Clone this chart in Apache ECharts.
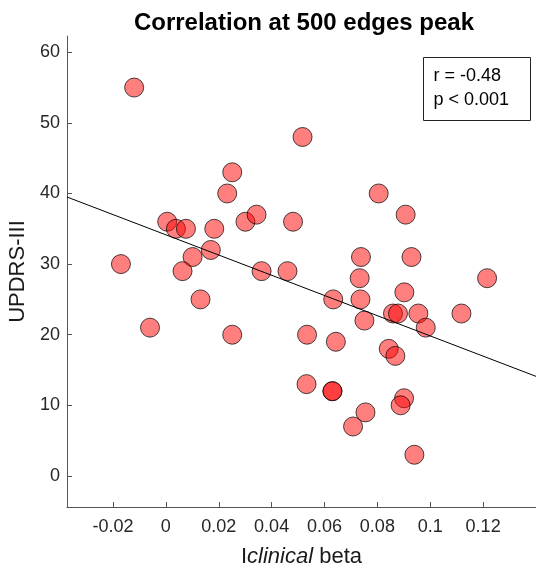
<!DOCTYPE html>
<html>
<head>
<meta charset="utf-8">
<script src="https://cdn.jsdelivr.net/npm/echarts@6/dist/echarts.min.js"></script>
<style>html,body{margin:0;padding:0;background:#fff;}#c{width:536px;height:566px;}</style>
</head>
<body>
<div id="c"></div>
<script>
var betaX = [-0.012,-0.017,-0.006,0.0005,0.0038,0.0076,0.0183,0.017,0.0101,0.0063,0.0362,0.046,0.0131,0.0251,0.0301,0.0343,0.0251,0.0232,0.0481,0.0517,0.0805,0.0907,0.0738,0.0929,0.1215,0.0733,0.0902,0.0633,0.0736,0.0859,0.0878,0.0955,0.1118,0.0983,0.0751,0.0534,0.0643,0.0843,0.0868,0.0532,0.063,0.063,0.0901,0.0888,0.0755,0.0708,0.094];
var updrsY = [55,30,21,36,35,35,35,32,31,29,29,29,25,20,36,37,43,40,36,48,40,37,31,31,28,28,26,25,25,23,23,23,23,21,22,20,19,18,17,13,12,12,11,10,9,7,3];
var fitX = [-0.0374, 0.14];
var fitY = [39.5, 14.1];
var xTicks = [-0.02,0,0.02,0.04,0.06,0.08,0.1,0.12];
var xTickLabels = ['-0.02','0','0.02','0.04','0.06','0.08','0.1','0.12'];
var yTicks = [0,10,20,30,40,50,60];
var statLines = ['r = -0.48','p < 0.001'];

var pts = betaX.map(function(x,i){return [x, updrsY[i]];});
var fitPts = fitX.map(function(x,i){return [x, fitY[i]];});
var FONT = '"Liberation Sans", Arial, sans-serif';
var chart = echarts.init(document.getElementById('c'));
chart.setOption({
  animation:false,
  backgroundColor:'#fff',
  title:{text:'Correlation at 500 edges peak',left:299,textAlign:'center',top:6,
    textStyle:{fontFamily:FONT,fontSize:24,fontWeight:'bold',color:'#000'}},
  grid:{left:67,right:0,top:36,bottom:59,containLabel:false,outerBoundsMode:'none'},
  xAxis:{type:'value',min:-0.0374,max:0.14,
    name:'{n|I}{i|clinical}{n| beta}',nameLocation:'middle',nameGap:39,
    nameTextStyle:{rich:{n:{fontFamily:FONT,fontSize:22,color:'#1a1a1a'},i:{fontFamily:FONT,fontSize:22,fontStyle:'italic',color:'#1a1a1a'}}},
    axisLine:{show:true,onZero:false,lineStyle:{color:'#555',width:1}},
    axisTick:{show:true,inside:true,length:5,customValues:xTicks,lineStyle:{color:'#555'}},
    axisLabel:{customValues:xTicks,fontFamily:FONT,fontSize:18,color:'#262626',margin:11,
      formatter:function(v){var k=xTicks.indexOf(v);return k>=0?xTickLabels[k]:'';}},
    splitLine:{show:false}},
  yAxis:{type:'value',min:-4.4,max:62.3,
    name:'UPDRS-III',nameLocation:'middle',nameGap:33,
    nameTextStyle:{fontFamily:FONT,fontSize:22,color:'#1a1a1a'},
    axisLine:{show:true,onZero:false,lineStyle:{color:'#555',width:1}},
    axisTick:{show:true,inside:true,length:5,customValues:yTicks,lineStyle:{color:'#555'}},
    axisLabel:{customValues:yTicks,fontFamily:FONT,fontSize:18,color:'#262626',margin:7},
    splitLine:{show:false}},
  graphic:[{type:'group',left:423,top:57,children:[
    {type:'rect',shape:{x:0,y:0,width:107,height:63},style:{fill:'#fff',stroke:'#222',lineWidth:1}},
    {type:'text',x:10,y:7,style:{text:statLines.join('\n'),fontFamily:FONT,fontSize:18,lineHeight:24,fill:'#000'}}
  ]}],
  series:[
    {type:'scatter',data:pts,symbolSize:19,z:2,
      itemStyle:{color:'rgba(255,0,0,0.5)',borderColor:'rgba(0,0,0,0.7)',borderWidth:1,opacity:1}},
    {type:'line',data:fitPts,showSymbol:false,symbol:'none',z:3,
      lineStyle:{color:'#000',width:1}}
  ]
});
</script>
</body>
</html>
